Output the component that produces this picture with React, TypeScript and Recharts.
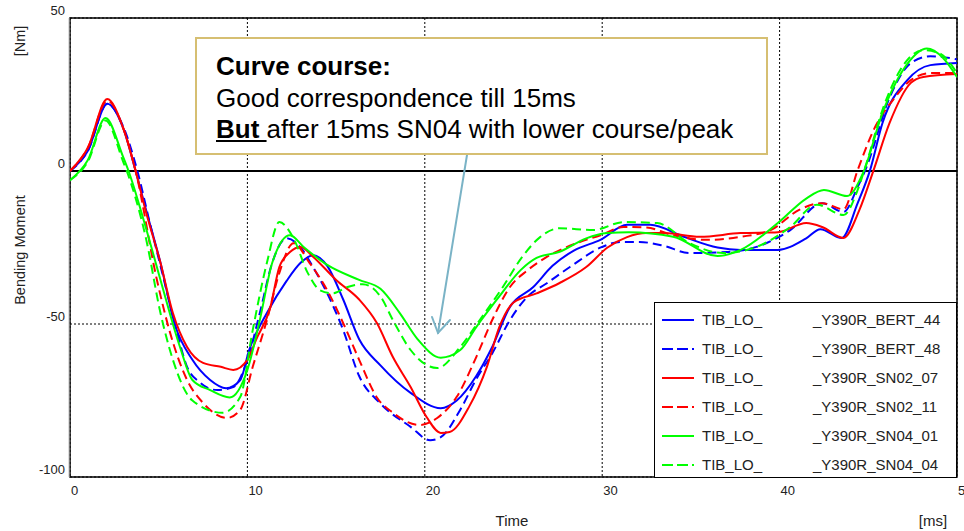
import {
  LineChart,
  Line,
  XAxis,
  YAxis,
  CartesianGrid,
  ReferenceLine,
  ReferenceArea,
} from "recharts";

const FONT = "'Liberation Sans', Arial, sans-serif";

const xTicks = [0, 10, 20, 30, 40, 50];
const yTicks = [-100, -50, 0, 50];

// [time ms, bending moment Nm]
const bert44 = [
  [0, 0], [1, 6.5], [2.1, 22], [3, 14], [3.7, 0], [4.3, -13], [5.1, -30], [5.9, -50],
  [6.9, -61.7], [7.9, -68.3], [8.8, -71], [9.6, -68.3], [10.1, -58.5], [11.1, -46.4],
  [12.2, -36], [13, -30], [13.7, -27.5], [14.5, -31], [15.4, -42], [16.3, -55],
  [17.5, -63.5], [19.2, -72.5], [20.9, -77.5], [21.8, -75], [22.9, -67], [23.8, -57.5],
  [24.8, -44.4], [26.1, -38], [27.2, -31], [28.4, -26], [29.9, -22.5], [31.4, -17.6],
  [32.7, -17.6], [34.6, -21.5], [36.5, -25], [37.8, -25.8], [39.9, -25.8], [41.5, -22],
  [42.3, -19], [43.5, -21.9], [44.4, -10.5], [45.1, 0.3], [45.8, 15.7], [47.2, 29.7],
  [48.5, 34.6], [50, 35.3],
];

const bert48 = [
  [0, 0], [1, 6.5], [2.1, 22], [3, 14.5], [3.8, 0], [4.5, -17], [5.2, -33.3], [6, -52],
  [6.6, -64], [7.3, -69], [8.3, -71.6], [9.2, -70.6], [10, -61.7], [10.7, -46.4],
  [11.4, -30], [12.2, -22], [13, -25], [13.7, -31.4], [14.5, -40], [15.4, -52],
  [16.3, -67], [17.5, -76], [19.2, -83.6], [20.3, -88], [20.9, -87], [22, -78],
  [22.9, -68], [23.8, -59.6], [24.8, -48.7], [25.8, -41], [26.9, -36.6], [28.2, -31.3],
  [30, -24.8], [31, -23.2], [32.1, -23.2], [33.5, -24.5], [34.9, -26.8], [37, -26.5],
  [38.7, -24.8], [40.6, -19.3], [42.4, -10.5], [43.6, -13.4], [44.4, -5.2], [44.9, 1.3],
  [46.2, 24], [47.4, 35.3], [48.5, 37.5], [50, 36.5],
];

const sn0207 = [
  [0, 0], [1, 7.5], [2.1, 23.5], [3, 14], [3.7, 0], [4.3, -13.7], [5.1, -30], [5.8, -46.4],
  [6.6, -57.5], [7.5, -62.7], [8.5, -64], [9.2, -65], [10, -61.7], [10.5, -55],
  [11.3, -44.4], [11.8, -31.4], [12.4, -26.5], [13, -24.8], [13.7, -28], [15, -35.6],
  [16.3, -42], [17.3, -49.7], [18.2, -60.8], [19.2, -70.6], [20.1, -80.4], [20.9, -85.6],
  [21.4, -85.3], [22.5, -77], [23.5, -64], [24.2, -51], [25, -43], [26.3, -40],
  [27.6, -36.6], [29.1, -31.4], [30.3, -25], [31.4, -21.6], [32.5, -20.3], [33.5, -20.3],
  [35.5, -21.5], [37.8, -20.3], [39.9, -20], [41.5, -17], [42.4, -18.3], [43.6, -21.9],
  [44.5, -12.7], [45.3, 0.3], [46.2, 15.7], [47.4, 28.8], [48.1, 30.7], [50, 31.7],
];

const sn0211 = [
  [0, 0], [1, 7.5], [2.1, 23], [3, 14], [3.7, 0], [4.9, -35.6], [5.6, -52], [6.6, -68.3],
  [7.5, -75.8], [8.85, -80.7], [9.6, -78], [10.3, -64], [11.1, -48.7], [11.8, -33.3],
  [12.6, -23.6], [13.5, -30], [14.5, -39], [15.4, -49.7], [16.3, -61.7], [17.3, -74],
  [18.2, -79], [19.7, -83], [20.7, -80.7], [21.8, -73.8], [22.9, -60.8], [23.8, -48.7],
  [24.8, -37.9], [25.8, -32.4], [26.9, -28], [28.6, -23.5], [29.9, -21], [31.2, -18.3],
  [32.5, -18.5], [34, -21], [35.9, -22.5], [37.8, -21.5], [39.5, -19.3], [41.1, -12.7],
  [42.4, -10.5], [43.6, -12.5], [44.4, 0.3], [45.3, 13.4], [46.5, 24], [47.4, 29.7],
  [48.5, 32], [50, 32],
];

const sn0401 = [
  [0, -3], [1, 3.5], [2, 17.3], [3, 4.5], [3.3, 0], [4.2, -17], [5.1, -35.6], [6.2, -57.5],
  [6.9, -68.3], [7.9, -71.6], [9, -74], [10, -65], [10.7, -48.7], [11.4, -30], [12.4, -21],
  [13.2, -25], [14.5, -30.7], [16.3, -35.6], [17.5, -38.5], [18.6, -46.5], [19.6, -55],
  [20.9, -61], [22, -58.5], [22.9, -51], [24.2, -41], [25.4, -32.4], [26.3, -28.4],
  [27.6, -26.4], [29.1, -22], [30.3, -20.3], [31.5, -20], [34, -21.5], [36.5, -27.8],
  [37.8, -25.8], [39.9, -17], [41.5, -9], [42.5, -6.2], [43.8, -8.2], [44.7, -0.7],
  [45.8, 19], [47.2, 35], [48.3, 40], [49.2, 37], [50, 30.7],
];

const sn0404 = [
  [0, -3], [1, 3], [2, 16.5], [3, 3], [3.2, 0], [4.3, -22.5], [5.1, -46.4], [5.8, -61.7],
  [6.9, -75], [8.6, -79], [9.6, -73.8], [10.3, -52], [11.1, -30], [11.8, -16.7],
  [12.6, -22], [13.4, -33.3], [14.1, -39], [14.8, -40], [15.6, -38], [16.5, -37],
  [17.5, -41], [18.2, -48.7], [19.2, -58.5], [20.7, -64.4], [22, -57.5], [23.1, -48.7],
  [24.4, -37.9], [25.5, -28], [26.5, -21.6], [27.6, -18.7], [29.5, -19.3], [31.2, -16.7],
  [33.1, -17], [34.9, -23.5], [36.8, -26.8], [38.7, -24.8], [40.6, -18.3], [42.1, -11],
  [43.6, -14.4], [44.4, -6.2], [44.9, 2.6], [45.8, 20], [46.8, 33], [48.1, 39.5],
  [49, 38.5], [50, 32],
];

const legendPrefix = "TIB_LO_";
const legendSuffixes = [
  "_Y390R_BERT_44",
  "_Y390R_BERT_48",
  "_Y390R_SN02_07",
  "_Y390R_SN02_11",
  "_Y390R_SN04_01",
  "_Y390R_SN04_04",
];

const series = [
  { data: bert44, color: "#0000ff", dashed: false },
  { data: bert48, color: "#0000ff", dashed: true },
  { data: sn0207, color: "#ff0000", dashed: false },
  { data: sn0211, color: "#ff0000", dashed: true },
  { data: sn0401, color: "#00ff00", dashed: false },
  { data: sn0404, color: "#00ff00", dashed: true },
];

const XTick = (p: any) => (
  <text x={p.x + 1} y={490} fontSize={13} fill="#222" fontFamily={FONT} textAnchor="start" dominantBaseline="central">
    {p.payload.value}
  </text>
);

const YTick = (p: any) => (
  <text x={65} y={p.y - 8} fontSize={13} fill="#222" fontFamily={FONT} textAnchor="end" dominantBaseline="central">
    {p.payload.value}
  </text>
);

export default function App() {
  return (
    <div style={{ position: "absolute", left: 0, top: 0, width: 964, height: 531, background: "#fff", fontFamily: FONT, overflow: "hidden" }}>
      <LineChart width={964} height={531} margin={{ top: 18, right: 7, bottom: 0, left: 0 }}>
        <CartesianGrid stroke="#000" strokeDasharray="2 2" />
        <XAxis dataKey="t" type="number" domain={[0, 50]} ticks={xTicks} interval={0} height={54} tickLine={false} axisLine={false} tick={XTick} allowDataOverflow />
        <YAxis type="number" domain={[-100, 50]} ticks={yTicks} interval={0} width={70} tickLine={false} axisLine={false} tick={YTick} allowDataOverflow />
        <ReferenceArea x1={0} x2={50} y1={-100} y2={50} fill="none" fillOpacity={0} stroke="#000" strokeWidth={1.5} />
        <ReferenceLine y={0} stroke="#000" strokeWidth={2} />
        {series.map((s, i) => (
          <Line
            key={i}
            data={s.data.map(([t, v]) => ({ t, v }))}
            dataKey="v"
            type="monotone"
            stroke={s.color}
            strokeWidth={2}
            strokeDasharray={s.dashed ? "9 5" : undefined}
            dot={false}
            activeDot={false}
            isAnimationActive={false}
          />
        ))}
      </LineChart>

      {/* axis titles + arrow */}
      <svg width={964} height={531} style={{ position: "absolute", left: 0, top: 0, pointerEvents: "none" }}>
        <line x1={69} y1={18} x2={69} y2={477} stroke="#bbb" strokeWidth={1} />
        <text x={20} y={250} transform="rotate(-90 20 250)" fontSize={14.5} fill="#222" fontFamily={FONT} textAnchor="middle" dominantBaseline="central">
          Bending Moment
        </text>
        <text x={20} y={41} transform="rotate(-90 20 41)" fontSize={14.5} fill="#222" fontFamily={FONT} textAnchor="middle" dominantBaseline="central">
          [Nm]
        </text>
        <text x={512} y={520} fontSize={15} fill="#222" fontFamily={FONT} textAnchor="middle" dominantBaseline="central">Time</text>
        <text x={933} y={520} fontSize={15} fill="#222" fontFamily={FONT} textAnchor="middle" dominantBaseline="central">[ms]</text>
        <g stroke="#7ab3c6" strokeWidth={2} fill="none" strokeLinecap="round">
          <line x1={467} y1={155} x2={438} y2={333} />
          <polyline points="432,317 438,333 450,320" />
        </g>
      </svg>

      {/* annotation */}
      <div
        style={{
          position: "absolute",
          left: 195,
          top: 37,
          width: 573,
          height: 118,
          boxSizing: "border-box",
          border: "2px solid #d6bf72",
          background: "#fff",
          paddingLeft: 19,
          paddingTop: 12,
          fontSize: 26,
          lineHeight: "31.5px",
          color: "#000",
        }}
      >
        <div style={{ fontWeight: "bold" }}>Curve course:</div>
        <div>Good correspondence till 15ms</div>
        <div>
          <u style={{ fontWeight: "bold" }}>But </u>after 15ms SN04 with lower course/peak
        </div>
      </div>

      {/* legend */}
      <div
        style={{
          position: "absolute",
          left: 654,
          top: 302,
          width: 303,
          height: 176,
          boxSizing: "border-box",
          border: "1px solid #000",
          background: "#fff",
          fontSize: 15,
          color: "#222",
        }}
      >
        {legendSuffixes.map((suf, i) => {
          const cy = 17 + i * 28.9;
          const s = series[i];
          return (
            <div key={suf}>
              <svg width={34} height={6} style={{ position: "absolute", left: 7, top: cy - 3 }}>
                <line x1={0} y1={3} x2={32} y2={3} stroke={s.color} strokeWidth={2} strokeDasharray={s.dashed ? "11 4" : undefined} />
              </svg>
              <span style={{ position: "absolute", left: 47, top: cy - 9, lineHeight: "18px" }}>{legendPrefix}</span>
              <span style={{ position: "absolute", left: 158, top: cy - 9, lineHeight: "18px" }}>{suf}</span>
            </div>
          );
        })}
      </div>
    </div>
  );
}
